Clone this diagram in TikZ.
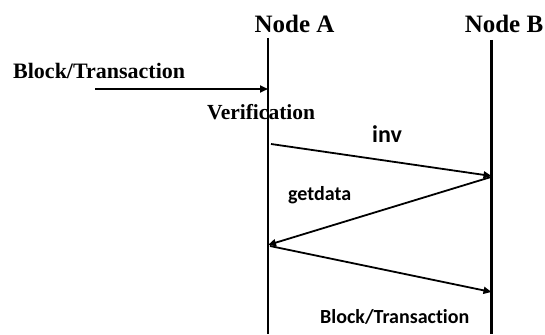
\documentclass[tikz,border=0pt]{standalone}
\usepackage{fontspec}
\setmainfont{Liberation Serif}
\newfontfamily\calfont[Ligatures={NoCommon,NoDiscretionary,NoRare}]{Carlito}
\usetikzlibrary{arrows.meta}
\begin{document}
\begin{tikzpicture}[x=1pt,y=-1pt,
  lifeline/.style={line width=2.2pt},
  msg/.style={line width=1.8pt,-{Triangle[length=8pt,width=7pt]}},
  peer/.style={font=\bfseries\fontsize{25}{30}\selectfont,anchor=base,inner sep=0pt},
  serifnote/.style={font=\bfseries\fontsize{22}{26}\selectfont,anchor=base west,inner sep=0pt},
  sansnote/.style={font=\calfont\bfseries\fontsize{20}{24}\selectfont,anchor=base west,inner sep=0pt}]
\useasboundingbox[fill=white] (0,0) rectangle (545,334);

% peers and their lifelines
\node[peer] (na) at (294.5,33) {Node A};
\node[peer] (nb) at (504,33) {Node B};
\coordinate (atop) at (268,38);
\coordinate (abot) at (268,334);
\coordinate (btop) at (491.5,40);
\coordinate (bbot) at (491.5,334);
\draw[lifeline] (atop) -- (abot);
\draw[lifeline] (btop) -- (bbot);

% message end points
\coordinate (src) at (95,89);
\coordinate (a1) at (268,89);
\coordinate (a2) at (271,144);
\coordinate (b2) at (491.5,176);
\coordinate (b3) at (491,177);
\coordinate (a3) at (268,245);
\coordinate (a4) at (270,246);
\coordinate (b4) at (491.5,292);

% messages
\draw[msg] (src) -- (a1);
\draw[msg] (a2) -- (b2);
\draw[msg] (b3) -- (a3);
\draw[msg] (a4) -- (b4);

% labels
\node[serifnote] (lin) at (13,79) {Block/Transaction};
\node[serifnote,font=\bfseries\fontsize{21.5}{26}\selectfont] (lver) at (207,119) {Verification};
\node[sansnote,font=\calfont\bfseries\fontsize{24}{28}\selectfont] (linv) at (372,142) {inv};
\node[sansnote] (lget) at (288,200) {getdata};
\node[sansnote] (lblk) at (320,323) {Block/Transaction};
\end{tikzpicture}
\end{document}
